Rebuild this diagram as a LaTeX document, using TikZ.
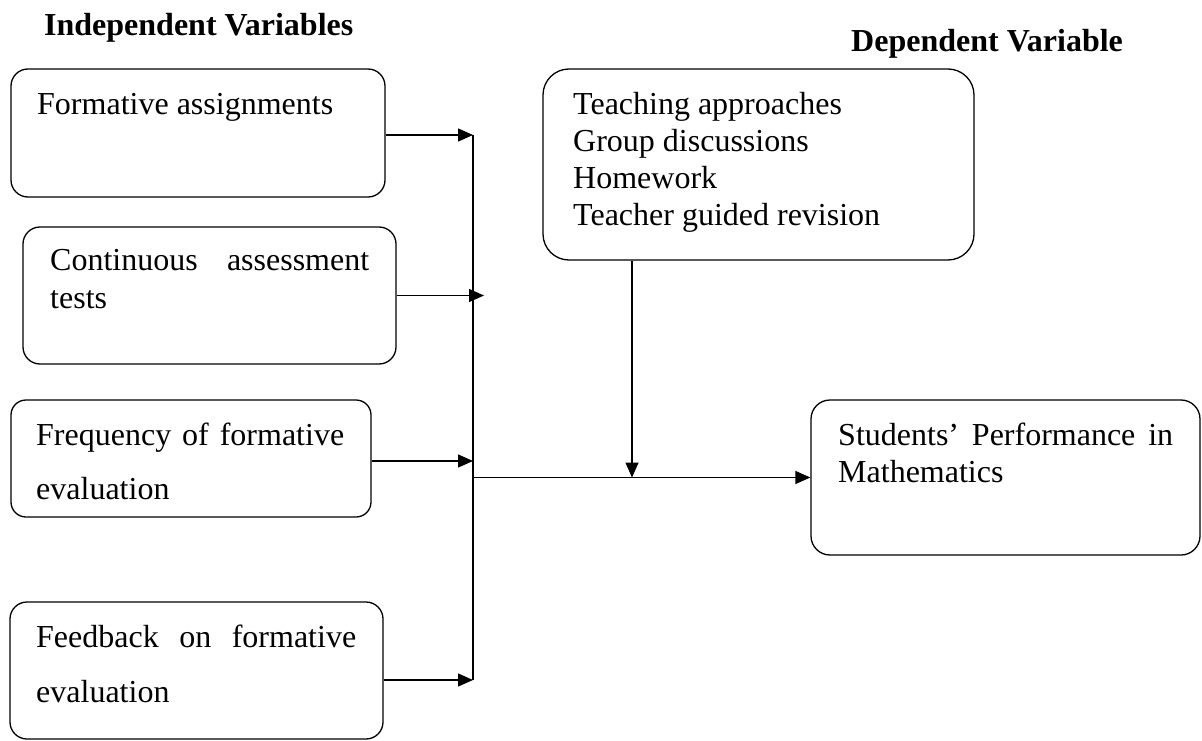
\documentclass[tikz,border=0pt]{standalone}
\usepackage{fontspec}
\setmainfont{Liberation Serif}
\usetikzlibrary{arrows.meta}
\begin{document}
\begin{tikzpicture}[x=1pt,y=-1pt,
  box/.style={draw, line width=1.3pt, rounded corners=17pt, inner sep=0pt},
  arr/.style={line width=1.4pt, -{Triangle[length=15pt,width=13pt]}},
  conn/.style={line width=1.4pt},
  lbl/.style={anchor=base west, inner sep=0pt, font=\fontsize{32}{37}\selectfont},
  ttl/.style={anchor=base west, inner sep=0pt, font=\fontsize{32}{37}\selectfont\bfseries}]
\useasboundingbox (0,0) rectangle (1202,741);

% titles
\node[ttl] (tind) at (44,36) {Independent Variables};
\node[ttl] (tdep) at (851,52) {Dependent Variable};

% boxes
\node[box, minimum width=374pt, minimum height=128pt] (b1) at (198,133) {};
\node[box, minimum width=373pt, minimum height=137pt] (b2) at (209.5,295.5) {};
\node[box, minimum width=360pt, minimum height=117pt, rounded corners=15pt] (b3) at (191,458.5) {};
\node[box, minimum width=373pt, minimum height=137pt] (b4) at (196.5,670.5) {};
\node[box, minimum width=431pt, minimum height=191pt, rounded corners=26pt] (b6) at (758.5,164.5) {};
\node[box, minimum width=389pt, minimum height=155pt, rounded corners=19pt] (b5) at (1005.5,477.5) {};

% texts
\node[lbl] (l1) at (37,115) {Formative assignments};
\node[lbl] (l2a) at (50,270) {\makebox[319pt][s]{Continuous assessment}};
\node[lbl] (l2b) at (50,308) {tests};
\node[lbl] (l3a) at (36,445) {\makebox[308pt][s]{Frequency of formative}};
\node[lbl] (l3b) at (36,499) {evaluation};
\node[lbl] (l4a) at (36,647) {\makebox[320pt][s]{Feedback on formative}};
\node[lbl] (l4b) at (36,702) {evaluation};
\node[lbl] (l6a) at (573,115) {Teaching approaches};
\node[lbl] (l6b) at (573,152) {Group discussions};
\node[lbl] (l6c) at (573,188) {Homework};
\node[lbl] (l6d) at (573,225) {Teacher guided revision};
\node[lbl] (l5a) at (838,445) {\makebox[335pt][s]{Students’ Performance in}};
\node[lbl] (l5b) at (838,482) {Mathematics};

% connector coordinates
\coordinate (bustop) at (473,135);
\coordinate (busbot) at (473,680);
\coordinate (t2) at (484,295.5);
\coordinate (junc) at (473,477.5);
\coordinate (drop) at (632,477.5);

% connectors
\draw[conn] (bustop) -- (busbot);
\draw[arr] (b1.east |- bustop) -- (bustop);
\draw[arr] (b2.east) -- (t2);
\draw[arr] ([yshift=-2.5pt]b3.east) -- ([yshift=-2.5pt]b3.east -| bustop);
\draw[arr] (b4.east |- busbot) -- (busbot);
\draw[arr] (junc) -- (b5.west);
\draw[arr] (b6.south -| drop) -- (drop);
\end{tikzpicture}
\end{document}
